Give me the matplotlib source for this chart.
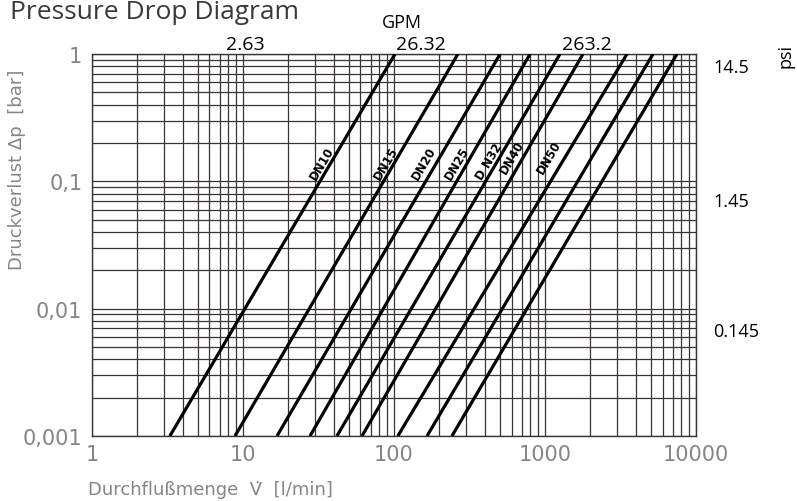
"""
Druckverlust-Diagramm (Pressure Drop Diagram) nachgebaut
"""
import numpy as np
import matplotlib
matplotlib.use("Agg")
import matplotlib.pyplot as plt
from matplotlib.ticker import LogLocator, NullFormatter, FixedLocator

# Durchfluss [l/min] am unteren (0,001 bar) und oberen (1 bar) Rand, je Kennlinie
q_bottom = [3.28, 8.85, 16.8, 27.8, 41.9, 61.4, 106, 165.5, 242]
q_top = [101.6, 265, 504, 796, 1257, 1785, 3491, 5190, 7484]
dp_ends = [0.001, 1.0]

# Beschriftung der Kennlinien
dn_names = ["DN10", "DN15", "DN20", "DN25", "D N32", "DN40", "DN50"]
dn_label_q = [33.5, 88, 158, 262, 428, 608, 1070]
dn_label_dp = [0.141, 0.141, 0.141, 0.141, 0.145, 0.157, 0.157]

x_ticks = [1, 10, 100, 1000, 10000]
x_ticklabels = ["1", "10", "100", "1000", "10000"]
y_ticks = [1, 0.1, 0.01, 0.001]
y_ticklabels = ["1", "0,1", "0,01", "0,001"]

gpm_labels = ["2.63", "26.32", "263.2"]
psi_labels = ["14.5", "1.45", "0.145"]

GRID = "#3b3434"
GREY = "#858585"

fig = plt.figure(figsize=(7.97, 5.02), dpi=100)
ax = fig.add_axes([0.1154, 0.1295, 0.7579, 0.7610])
ax.set_xscale("log")
ax.set_yscale("log")
ax.set_xlim(1, 10000)
ax.set_ylim(0.001, 1)

ax.xaxis.set_minor_locator(LogLocator(base=10, subs=range(2, 10)))
ax.yaxis.set_minor_locator(LogLocator(base=10, subs=range(2, 10)))
ax.xaxis.set_minor_formatter(NullFormatter())
ax.yaxis.set_minor_formatter(NullFormatter())
ax.grid(True, which="both", color=GRID, linewidth=0.9)
ax.set_axisbelow(True)
for sp in ax.spines.values():
    sp.set_color(GRID)
    sp.set_linewidth(1.0)

ax.xaxis.set_major_locator(FixedLocator(x_ticks))
ax.set_xticklabels(x_ticklabels)
ax.yaxis.set_major_locator(FixedLocator(y_ticks))
ax.set_yticklabels(y_ticklabels)
ax.tick_params(which="both", length=0)
ax.tick_params(axis="x", pad=6, labelsize=15, labelcolor=GREY)
ax.tick_params(axis="y", pad=7, labelsize=15, labelcolor=GREY)

# Kennlinien
for qb, qt in zip(q_bottom, q_top):
    ax.plot([qb, qt], dp_ends, color="black", linewidth=2.3,
            solid_capstyle="butt", zorder=3)

for name, q, dp in zip(dn_names, dn_label_q, dn_label_dp):
    ax.text(q, dp, name, rotation=59.5, rotation_mode="anchor",
            ha="center", va="center", fontsize=8.5, fontweight="bold",
            color="black", zorder=4)

# Achsbeschriftungen
fig.text(17 / 797, 1 - 170 / 502, "Druckverlust \u0394p  [bar]", rotation=90,
         ha="center", va="center", fontsize=13, color=GREY)
fig.text(88 / 797, 1 - 490 / 502, "Durchflußmenge  V\u0307  [l/min]",
         ha="left", va="center", fontsize=13, color=GREY)

# Titel und Zusatzskalen
fig.text(10 / 797, 1 - 19 / 502, "Pressure Drop Diagram", ha="left",
         va="baseline", fontsize=19, family="Open Sans", color="#3a3a3a")
fig.text(402 / 797, 1 - 28 / 502, "GPM", ha="center", va="baseline",
         fontsize=13, family="Open Sans", color="black")
for lab, px in zip(gpm_labels, [245, 421, 587]):
    fig.text(px / 797, 1 - 50 / 502, lab, ha="center", va="baseline",
             fontsize=14, family="Open Sans", color="black")
for lab, py in zip(psi_labels, [68, 202, 332]):
    fig.text(713 / 797, 1 - py / 502, lab, ha="left", va="center",
             fontsize=13, family="Open Sans", color="black")
fig.text(785 / 797, 1 - 56 / 502, "psi", rotation=90, ha="center", va="center",
         fontsize=13, family="Open Sans", color="black")

fig.savefig("out.png", dpi=100)
